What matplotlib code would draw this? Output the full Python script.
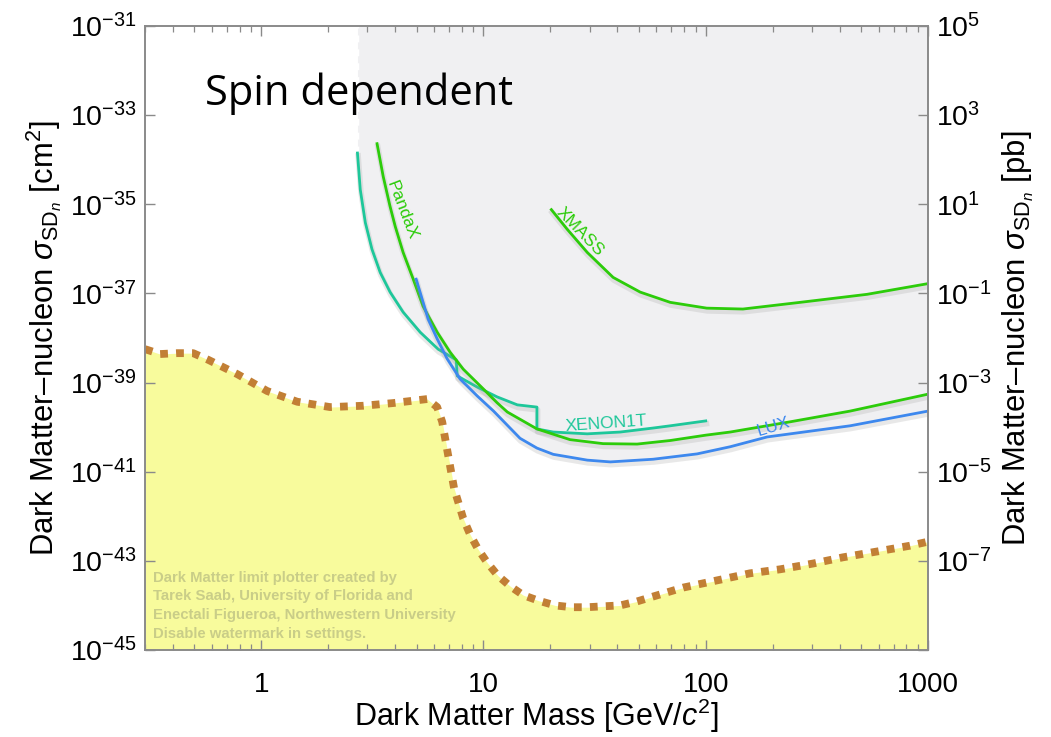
import numpy as np
import matplotlib
matplotlib.use("Agg")
import matplotlib.pyplot as plt
from matplotlib import patheffects as pe
from matplotlib.ticker import FixedLocator, NullFormatter, FixedFormatter

plt.rcParams['font.family'] = ['Liberation Sans', 'DejaVu Sans']
plt.rcParams['mathtext.fontset'] = 'custom'
plt.rcParams['mathtext.rm'] = 'Liberation Sans'
plt.rcParams['mathtext.it'] = 'Liberation Sans:italic'
plt.rcParams['mathtext.bf'] = 'Liberation Sans:bold'

# ---------------- data (mass in GeV/c^2, log10 of cross-section in cm^2) -------------
xenon1t_mass = [2.71, 2.79, 2.94, 3.15, 3.43, 3.80, 4.35, 5.19, 6.25, 7.54, 7.62, 9.37, 11.5, 14.2, 17.4,
                17.4, 20.6, 29.3, 41.2, 58.0, 69.2, 100.0]
xenon1t_logsig = [-33.85, -34.67, -35.41, -36.01, -36.53, -36.97, -37.42, -37.87, -38.25, -38.49, -38.85,
                  -39.10, -39.32, -39.50, -39.55, -40.04, -40.11, -40.15, -40.11, -40.02, -39.97, -39.86]

pandax_mass = [3.32, 3.54, 3.80, 4.01, 4.35, 4.83, 5.35, 6.19, 7.08, 8.11, 9.97, 11.5, 12.8, 17.4, 24.5,
               34.5, 49.1, 69.2, 100.0, 128.8, 240.0, 446.0, 1000.0]
pandax_logsig = [-33.64, -34.38, -35.05, -35.50, -36.08, -36.68, -37.29, -37.87, -38.32, -38.70, -39.14,
                 -39.45, -39.66, -40.04, -40.28, -40.37, -40.38, -40.30, -40.18, -40.11, -39.88, -39.64, -39.26]

lux_mass = [4.98, 5.30, 5.64, 6.19, 6.87, 7.85, 9.37, 11.1, 14.6, 17.4, 20.6, 29.3, 37.2, 58.0, 91.5,
            128.8, 189.0, 446.0, 1000.0]
lux_logsig = [-36.68, -37.13, -37.58, -38.02, -38.47, -38.92, -39.30, -39.64, -40.25, -40.47, -40.61,
              -40.74, -40.78, -40.72, -40.60, -40.44, -40.22, -39.97, -39.64]

xmass_mass = [20.2, 23.8, 29.3, 38.3, 50.7, 69.2, 101.0, 147.0, 266.0, 532.0, 1000.0]
xmass_logsig = [-35.12, -35.56, -36.08, -36.64, -36.97, -37.20, -37.33, -37.35, -37.20, -37.02, -36.78]

floor_mass = [0.30, 0.351, 0.419, 0.494, 0.578, 0.780, 1.064, 1.452, 2.04, 2.88, 3.92, 5.58, 6.19, 6.52,
              6.94, 7.38, 8.11, 8.71, 9.46, 10.4, 11.6, 13.2, 15.1, 17.6, 21.0, 24.8, 29.3, 34.5, 41.2,
              49.1, 58.0, 79.1, 112.0, 158.0, 216.0, 304.0, 415.0, 590.0, 830.0, 1000.0]
floor_logsig = [-38.25, -38.36, -38.34, -38.34, -38.49, -38.81, -39.19, -39.43, -39.55, -39.52, -39.46, -39.37,
                -39.55, -39.88, -40.64, -41.38, -42.05, -42.41, -42.74, -43.04, -43.33, -43.57, -43.77, -43.89,
                -44.00, -44.04, -44.04, -44.02, -44.00, -43.91, -43.80, -43.60, -43.44, -43.28, -43.19, -43.06,
                -42.92, -42.79, -42.66, -42.57]

x_ticks = [1, 10, 100, 1000]
x_ticklabels = ['1', '10', '100', '1000']
y_ticks_exp = [-45, -43, -41, -39, -37, -35, -33, -31]
y2_ticks_exp = [-9, -7, -5, -3, -1, 1, 3, 5]

c_xenon = '#1ec79a'
c_green = '#2ccc0a'
c_lux = '#3d88ee'
c_floor = '#c27f35'
c_yellow = '#f8fb9c'
c_grey = '#f0f0f2'

fig = plt.figure(figsize=(10.51, 7.37), dpi=100)
ax = fig.add_axes([145/1051, 87/737, 783/1051, 624/737])
ax.set_xscale('log')
ax.set_yscale('log')
ax.set_xlim(0.3, 1000)
ax.set_ylim(1e-45, 1e-31)

# --- grey excluded region above the envelope of limits
curves = [(xenon1t_mass, xenon1t_logsig), (pandax_mass, pandax_logsig), (lux_mass, lux_logsig), (xmass_mass, xmass_logsig)]
lo = min(c[0][0] for c in curves)
grid = np.logspace(np.log10(lo), 3, 800)
lg = np.log10(grid)
env = np.full(grid.shape, np.inf)
for m, s in curves:
    lm_adj = np.log10(np.array(m, dtype=float))
    for i in range(1, len(lm_adj)):
        if lm_adj[i] <= lm_adj[i-1]:
            lm_adj[i] = lm_adj[i-1] + 1e-6
    vals = np.interp(lg, lm_adj, s, left=np.inf, right=np.inf)
    env = np.minimum(env, vals)
ax.fill_between(grid, 10**env, 1e-31, color=c_grey, lw=0, zorder=1)
ax.plot([lo, lo], [10**xenon1t_logsig[0], 1e-31], color='white', lw=2.5, ls=(0, (2, 2)), zorder=1.5)

# --- neutrino floor
fm = np.array(floor_mass)
fs = 10**np.array(floor_logsig)
ax.fill_between(fm, 1e-45, fs, color=c_yellow, lw=0, zorder=1)
ax.plot(fm, fs, color=c_floor, lw=5.6, ls=(0, (1, 1.05)), dash_capstyle='butt', zorder=3)

shadow = [pe.SimpleLineShadow(offset=(0.5, -2.0), shadow_color='#9a9a9a', alpha=0.22, linewidth=4), pe.Normal()]

ax.plot(xenon1t_mass, 10**np.array(xenon1t_logsig), color=c_xenon, lw=2, zorder=4, path_effects=shadow)
ax.plot(pandax_mass, 10**np.array(pandax_logsig), color=c_green, lw=2, zorder=4, path_effects=shadow)
ax.plot(lux_mass, 10**np.array(lux_logsig), color=c_lux, lw=2, zorder=4, path_effects=shadow)
ax.plot(xmass_mass, 10**np.array(xmass_logsig), color=c_green, lw=2, zorder=4, path_effects=shadow)

# curve labels
ax.text(4.31, 10**-35.14, 'PandaX', color=c_green, fontsize=12.5, rotation=-69, ha='center', va='center', zorder=5)
ax.text(27.2, 10**-35.61, 'XMASS', color=c_green, fontsize=12.5, rotation=-46, ha='center', va='center', zorder=5)
ax.text(35.6, 10**-39.93, 'XENON1T', color=c_xenon, fontsize=12.5, rotation=4, ha='center', va='center', zorder=5)
ax.text(201, 10**-39.99, 'LUX', color=c_lux, fontsize=12.5, rotation=17, ha='center', va='center', zorder=5)

ax.text(0.56, 10**-32.78, 'Spin dependent', fontsize=30, family=['Open Sans', 'DejaVu Sans'],
        ha='left', va='baseline', color='black', zorder=5)

ax.text(0.327, 10**-43.22,
        'Dark Matter limit plotter created by\nTarek Saab, University of Florida and\n'
        'Enectali Figueroa, Northwestern University\nDisable watermark in settings.',
        fontsize=10.7, fontweight='bold', color='#c9cd88', ha='left', va='top', linespacing=1.42, zorder=2)

# axes styling
for sp in ax.spines.values():
    sp.set_color('#8a8a8a')
    sp.set_linewidth(1.2)
    sp.set_zorder(6)

ax.xaxis.set_major_locator(FixedLocator(x_ticks))
ax.xaxis.set_major_formatter(FixedFormatter(x_ticklabels))
minors = [d * k for d in [0.1, 1, 10, 100] for k in range(2, 10) if 0.3 <= d * k <= 1000]
ax.xaxis.set_minor_locator(FixedLocator(minors))
ax.xaxis.set_minor_formatter(NullFormatter())
ax.tick_params(axis='x', which='major', direction='in', length=7, width=1, color='#8a8a8a',
               top=True, labelsize=20, pad=16)
ax.tick_params(axis='x', which='minor', direction='in', length=4, width=0.9, color='#8a8a8a', top=True)

ax.yaxis.set_major_locator(FixedLocator([10.0**e for e in y_ticks_exp]))
ax.yaxis.set_major_formatter(FixedFormatter(['10$^{%d}$' % e for e in y_ticks_exp]))
ax.yaxis.set_minor_locator(FixedLocator([]))
ax.tick_params(axis='y', which='major', direction='in', length=7, width=1, color='#8a8a8a',
               labelsize=20.5, pad=6)

ax2 = ax.twinx()
ax2.set_yscale('log')
ax2.set_ylim(1e-9, 1e5)
ax2.yaxis.set_major_locator(FixedLocator([10.0**e for e in y2_ticks_exp]))
ax2.yaxis.set_major_formatter(FixedFormatter(['' if e == -9 else '10$^{%d}$' % e for e in y2_ticks_exp]))
ax2.yaxis.set_minor_locator(FixedLocator([]))
ax2.tick_params(axis='y', which='major', direction='in', length=7, width=1, color='#8a8a8a',
                labelsize=20.5, pad=6)
for sp in ax2.spines.values():
    sp.set_color('#8a8a8a')
    sp.set_linewidth(1.2)

ax.set_xlabel('Dark Matter Mass [GeV/$c^2$]', fontsize=22, labelpad=-1)
ax.set_ylabel('Dark Matter\u2013nucleon $\\sigma_{\\mathrm{SD}_n}$ [cm$^2$]', fontsize=22.3, labelpad=4)
ax2.set_ylabel('Dark Matter\u2013nucleon $\\sigma_{\\mathrm{SD}_n}$ [pb]', fontsize=22.3, labelpad=6)

fig.savefig('out.png', dpi=100)
